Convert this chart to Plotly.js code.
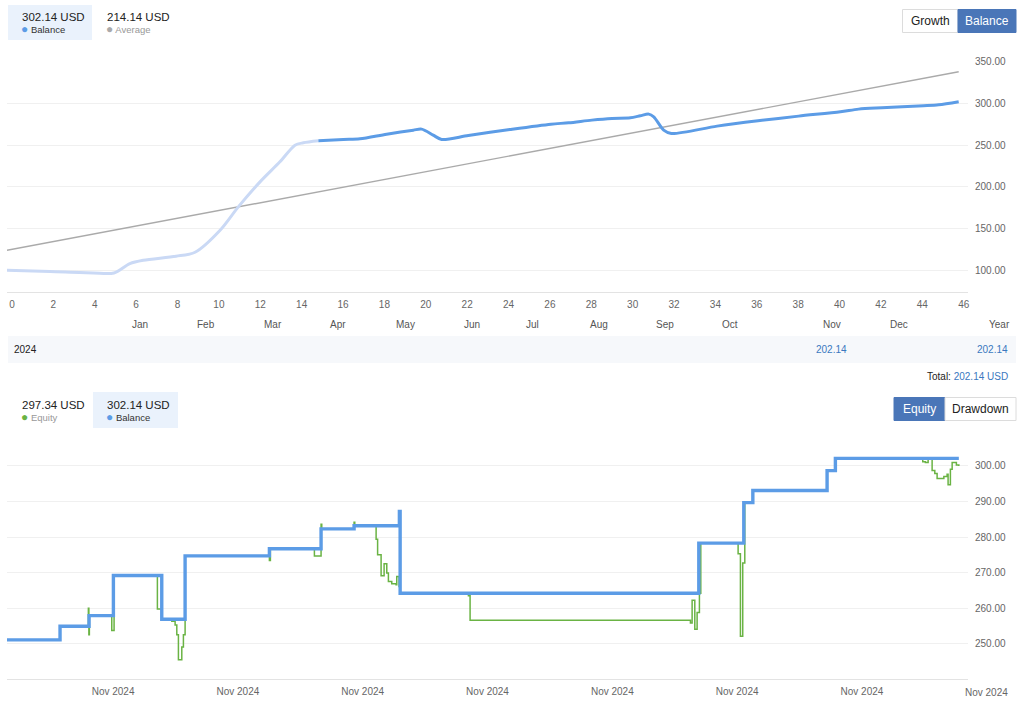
<!DOCTYPE html>
<html><head><meta charset="utf-8">
<script src="https://cdn.plot.ly/plotly-3.0.1.min.js"></script>
<style>html,body{margin:0;padding:0;background:#fff;} #chart{width:1024px;height:704px;}</style>
</head><body><div id="chart"></div>
<script>
// ---------- Data: growth / balance chart (x = week number) ----------
const growthWeeks = [0, 2.08, 4.17, 5.17, 5.94, 6.59, 8.17, 9.09, 10.3, 11.18, 12.23, 13.19, 13.92, 14.32, 15.05,
  16.26, 17.06, 18.35, 19.64, 20.04, 20.6, 21.01, 22.3, 24.31, 26.29, 27.15, 28.27, 29.24, 30.13, 30.61, 31.02,
  31.26, 31.74, 32.11, 34.32, 36.3, 38.26, 40.28, 41.16, 42.29, 44.3, 45.03, 46];
const growthBalance = [100, 98.5, 96.8, 96.8, 108.1, 112, 116.8, 121.6, 148, 176, 206, 230, 250, 252.8, 255.2,
  256.8, 257.6, 263.2, 268, 269.2, 262, 256.8, 261.6, 268.8, 275.2, 276.8, 280, 282, 282.8, 285.2, 287.2,
  284, 268, 264, 272.8, 279.2, 284.8, 290, 293.2, 294.8, 297.2, 298.4, 302.14];
const highlightFromWeek = 15.05;
const averageWeeks = [0, 46];
const averageValues = [124, 338];
const monthLabels = ['Jan','Feb','Mar','Apr','May','Jun','Jul','Aug','Sep','Oct','Nov','Dec','Year'];
const monthWeeks = [6.19, 9.38, 12.61, 15.76, 19.04, 22.23, 25.18, 28.37, 31.56, 34.70, 39.63, 42.87, 47.75];

// ---------- Data: year table ----------
const tableYear = '2024';
const tableValues = ['202.14', '202.14'];
const totalText = '202.14 USD';

// ---------- Data: header figures ----------
const topBalanceText = '302.14 USD';
const topAverageText = '214.14 USD';
const equityText = '297.34 USD';
const bottomBalanceText = '302.14 USD';

// ---------- Data: equity / balance chart (x = day of Nov 2024) ----------
const balanceDays = [2.30, 3.15, 3.615, 4.005, 4.78, 5.154, 6.505, 7.333, 7.862, 8.588, 8.60, 13.386, 14.107, 14.252, 15.442, 15.575, 17.553];
const balanceValues = [251.1, 254.9, 257.9, 269.2, 256.9, 274.7, 276.7, 282.3, 283.2, 287.2, 264.2, 278.3, 289.7, 293.1, 298.7, 302.14, 302.14];
const equityDays = [2.30, 3.15, 3.604, 3.612, 3.620, 3.979, 4.016, 4.710, 4.780, 4.941, 4.994, 5.021, 5.047, 5.101, 5.127, 5.154,
  6.505, 6.521, 7.226, 7.333, 7.344, 7.862, 7.873, 8.215, 8.239, 8.295, 8.343, 8.386, 8.412, 8.466, 8.535, 8.546, 8.583, 8.599,
  9.694, 9.721, 13.252, 13.279, 13.322, 13.359, 13.396, 13.418, 14.016, 14.053, 14.090, 14.123, 14.252, 15.442, 15.575,
  16.975, 17.017, 17.061, 17.125, 17.168, 17.205, 17.313, 17.365, 17.381, 17.418, 17.446, 17.489, 17.514, 17.553];
const equityValues = [251.1, 254.9, 260.0, 252.5, 257.9, 253.7, 269.2, 259.8, 256.9, 256.3, 255.3, 252.5, 245.5, 249.1, 252.5, 274.7,
  273.4, 276.7, 274.7, 283.6, 282.3, 284.2, 283.2, 279.4, 275.0, 269.1, 272.5, 269.9, 267.5, 266.9, 266.6, 268.9, 266.1, 264.2,
  263.5, 256.6, 255.8, 262.2, 254.1, 258.8, 264.2, 278.3, 275.3, 252.1, 272.7, 289.7, 293.1, 298.7, 302.14,
  301.2, 301.0, 301.9, 298.7, 297.9, 296.5, 297.0, 297.7, 294.7, 299.1, 301.0, 301.0, 300.3, 300.0];
const bottomTickDays = [4, 6, 8, 10, 12, 14, 16, 18];
const bottomTickLabels = ['Nov 2024','Nov 2024','Nov 2024','Nov 2024','Nov 2024','Nov 2024','Nov 2024','Nov 2024'];
const bottomYTicks = [250, 260, 270, 280, 290, 300];

// ---------- helpers ----------
const W = 1024, H = 704;
const FONT = '"Liberation Sans", Arial, sans-serif';
const BLUE = '#5c9ce6', LIGHT = '#cad9f5', GREY = '#aaaaaa', GREEN = '#6ab344', BTN = '#4a76b8', LINKC = '#3a78c0';
const px = x => x / W;
const py = y => 1 - y / H;
function dayToDate(d) {
  const ms = Date.UTC(2024, 10, 1) + (d - 1) * 86400000;
  return new Date(ms).toISOString().replace('T', ' ').replace('Z', '');
}
const xDomain = [7 / W, 968 / W];
const topRange = [0, 46.45];
const botRange = [2.30, 17.70];
function paperX(v, range) {
  return xDomain[0] + (v - range[0]) / (range[1] - range[0]) * (xDomain[1] - xDomain[0]);
}

// split balance line
const lightW = [], lightV = [], solidW = [], solidV = [];
growthWeeks.forEach((w, i) => {
  if (w <= highlightFromWeek) { lightW.push(w); lightV.push(growthBalance[i]); }
  if (w >= highlightFromWeek) { solidW.push(w); solidV.push(growthBalance[i]); }
});

const traces = [
  {x: averageWeeks, y: averageValues, xaxis: 'x', yaxis: 'y', mode: 'lines', line: {color: GREY, width: 1.4}, hoverinfo: 'skip'},
  {x: lightW, y: lightV, xaxis: 'x', yaxis: 'y', mode: 'lines', line: {color: LIGHT, width: 3, shape: 'spline', smoothing: 0.8}},
  {x: solidW, y: solidV, xaxis: 'x', yaxis: 'y', mode: 'lines', line: {color: BLUE, width: 3, shape: 'spline', smoothing: 0.8}},
  {x: equityDays.map(dayToDate), y: equityValues, xaxis: 'x2', yaxis: 'y2', mode: 'lines', line: {color: GREEN, width: 1.5, shape: 'hv'}},
  {x: balanceDays.map(dayToDate), y: balanceValues, xaxis: 'x2', yaxis: 'y2', mode: 'lines', line: {color: BLUE, width: 3.4, shape: 'hv'}}
];

const tickFont = {family: FONT, size: 10, color: '#666'};
const GRID = '#f0f0f0', AXLINE = '#e3e3e3';

const shapes = [
  {type: 'rect', xref: 'paper', yref: 'paper', x0: px(8), x1: px(92), y0: py(40), y1: py(5), fillcolor: '#eaf2fc', line: {width: 0}, layer: 'below'},
  {type: 'rect', xref: 'paper', yref: 'paper', x0: px(93), x1: px(178), y0: py(428), y1: py(392), fillcolor: '#eaf2fc', line: {width: 0}, layer: 'below'},
  {type: 'rect', xref: 'paper', yref: 'paper', x0: px(902.5), x1: px(958), y0: py(32.5), y1: py(9.5), fillcolor: '#ffffff', line: {width: 1, color: '#dcdcdc'}},
  {type: 'rect', xref: 'paper', yref: 'paper', x0: px(958), x1: px(1016), y0: py(32.5), y1: py(9.5), fillcolor: BTN, line: {width: 1, color: BTN}},
  {type: 'rect', xref: 'paper', yref: 'paper', x0: px(894), x1: px(945), y0: py(420.5), y1: py(397.5), fillcolor: BTN, line: {width: 1, color: BTN}},
  {type: 'rect', xref: 'paper', yref: 'paper', x0: px(945), x1: px(1016), y0: py(420.5), y1: py(397.5), fillcolor: '#ffffff', line: {width: 1, color: '#dcdcdc'}},
  {type: 'rect', xref: 'paper', yref: 'paper', x0: px(8), x1: px(1016), y0: py(363), y1: py(336), fillcolor: '#f6f8fb', line: {width: 0}, layer: 'below'}
];

function txt(x, y, text, size, color, anchor, extra) {
  return Object.assign({xref: 'paper', yref: 'paper', x: x, y: y, text: text, showarrow: false,
    xanchor: anchor || 'left', yanchor: 'middle', font: {family: FONT, size: size, color: color}}, extra || {});
}
const dot = c => '<span style="color:' + c + ';font-size:12px">●</span> ';
const annotations = [
  txt(px(20), py(16.5), topBalanceText, 11.5, '#222'),
  txt(px(19), py(28.5), dot(BLUE) + 'Balance', 9.5, '#333'),
  txt(px(105), py(16.5), topAverageText, 11.5, '#222'),
  txt(px(104), py(28.5), dot(GREY) + 'Average', 9.5, '#999'),
  txt(px(930), py(21), 'Growth', 12, '#222', 'center'),
  txt(px(987), py(21), 'Balance', 12, '#ffffff', 'center'),
  txt(px(12), py(349.5), tableYear, 10, '#222'),
  txt(px(831), py(349.5), tableValues[0], 10, LINKC, 'center'),
  txt(px(1010), py(349.5), tableValues[1], 10, LINKC, 'right'),
  txt(px(1010), py(376.5), 'Total: <span style="color:' + LINKC + '">' + totalText + '</span>', 10, '#222', 'right'),
  txt(px(20), py(404.5), equityText, 11.5, '#222'),
  txt(px(19), py(416.5), dot(GREEN) + 'Equity', 9.5, '#999'),
  txt(px(105), py(404.5), bottomBalanceText, 11.5, '#222'),
  txt(px(104), py(416.5), dot(BLUE) + 'Balance', 9.5, '#333'),
  txt(px(919.5), py(409), 'Equity', 12, '#ffffff', 'center'),
  txt(px(980.5), py(409), 'Drawdown', 12, '#222', 'center')
];
monthLabels.forEach((m, i) => {
  annotations.push(txt(paperX(monthWeeks[i], topRange), py(324.5), m, 10, '#555', 'center', {xshift: 5}));
});
const inTickDays = [], inTickLabels = [];
bottomTickDays.forEach((d, i) => {
  if (d >= botRange[0] && d <= botRange[1]) { inTickDays.push(dayToDate(d)); inTickLabels.push(bottomTickLabels[i]); }
  else annotations.push(txt(paperX(d, botRange), py(692), bottomTickLabels[i], 10, '#666', 'center'));
});

const layout = {
  width: W, height: H, margin: {l: 0, r: 0, t: 0, b: 0},
  paper_bgcolor: '#ffffff', plot_bgcolor: 'rgba(0,0,0,0)', showlegend: false,
  font: {family: FONT},
  xaxis: {domain: xDomain, range: topRange, anchor: 'y', showgrid: false, zeroline: false,
    tickmode: 'linear', tick0: 0, dtick: 2, ticks: '', tickfont: tickFont, ticklabelshift: 5, ticklabelstandoff: 3,
    showline: true, linecolor: AXLINE, linewidth: 1},
  yaxis: {domain: [py(292.3), py(61.7)], range: [73.6, 350.05], anchor: 'x', side: 'right',
    tickmode: 'linear', tick0: 0, dtick: 50, tickformat: '.2f', ticks: '', tickfont: tickFont, ticklabelstandoff: 6,
    showgrid: true, gridcolor: GRID, zeroline: false, showline: false},
  xaxis2: {domain: xDomain, type: 'date', range: [dayToDate(botRange[0]), dayToDate(botRange[1])], anchor: 'y2',
    showgrid: false, zeroline: false, tickmode: 'array', tickvals: inTickDays, ticktext: inTickLabels, ticks: '',
    tickfont: tickFont, ticklabelstandoff: 3, showline: true, linecolor: AXLINE, linewidth: 1},
  yaxis2: {domain: [py(679.3), py(440)], range: [240, 307.3], anchor: 'x2', side: 'right',
    tickmode: 'array', tickvals: bottomYTicks, tickformat: '.2f', ticks: '', tickfont: tickFont, ticklabelstandoff: 6,
    showgrid: true, gridcolor: GRID, zeroline: false, showline: false},
  shapes: shapes, annotations: annotations
};
Plotly.newPlot('chart', traces, layout, {displayModeBar: false, staticPlot: true});
</script></body></html>
